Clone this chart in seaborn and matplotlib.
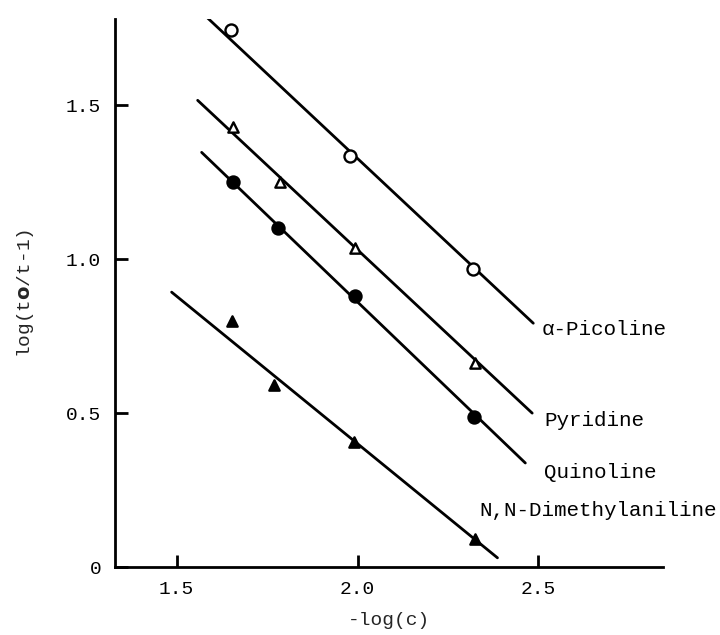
import matplotlib
matplotlib.use("Agg")
import matplotlib.pyplot as plt
import seaborn as sns
import pandas as pd

# ---- data ----
x_pic = [1.649, 1.98, 2.32]
y_pic = [1.743, 1.334, 0.967]
x_pyr = [1.657, 1.787, 1.994, 2.326]
y_pyr = [1.429, 1.25, 1.036, 0.662]
x_qui = [1.657, 1.779, 1.992, 2.323]
y_qui = [1.25, 1.10, 0.88, 0.487]
x_dma = [1.652, 1.768, 1.989, 2.326]
y_dma = [0.80, 0.59, 0.406, 0.09]

# fitted straight lines (end points)
fx_pic = [1.575, 2.486]; fy_pic = [1.795, 0.792]
fx_pyr = [1.558, 2.483]; fy_pyr = [1.516, 0.500]
fx_qui = [1.569, 2.464]; fy_qui = [1.347, 0.338]
fx_dma = [1.486, 2.387]; fy_dma = [0.893, 0.030]

names = ["\u03b1-Picoline", "Pyridine", "Quinoline", "N,N-Dimethylaniline"]
label_x = [2.51, 2.517, 2.517, 2.337]
label_y = [0.77, 0.477, 0.308, 0.185]

x_ticks = [1.5, 2.0, 2.5]
x_ticklabels = ["1.5", "2.0", "2.5"]
y_ticks = [0, 0.5, 1.0, 1.5]
y_ticklabels = ["0", "0.5", "1.0", "1.5"]

sns.set_style("ticks")
plt.rcParams['font.family'] = ['Liberation Mono', 'DejaVu Sans Mono']

fig = plt.figure(figsize=(7.2, 6.35), dpi=100)
ax = fig.add_axes([0.160, 0.107, 0.761, 0.863])

series = [
    (x_pic, y_pic, fx_pic, fy_pic, 'o', 'white'),
    (x_pyr, y_pyr, fx_pyr, fy_pyr, '^', 'white'),
    (x_qui, y_qui, fx_qui, fy_qui, 'o', 'black'),
    (x_dma, y_dma, fx_dma, fy_dma, '^', 'black'),
]
for xs, ys, fxs, fys, m, fc in series:
    sns.lineplot(x=fxs, y=fys, ax=ax, color='black', lw=2.0, sort=False,
                 estimator=None)
    sns.scatterplot(x=xs, y=ys, ax=ax, marker=m, s=75 if m == 'o' else 55,
                    facecolor=fc, edgecolor='black', linewidth=1.7, zorder=3)

for n, lx, ly in zip(names, label_x, label_y):
    ax.text(lx, ly, n, fontsize=15, ha='left', va='center', color='black')

ax.set_xlim(1.33, 2.845)
ax.set_ylim(0, 1.78)
ax.set_xticks(x_ticks)
ax.set_xticklabels(x_ticklabels)
ax.set_yticks(y_ticks)
ax.set_yticklabels(y_ticklabels)
ax.tick_params(axis='both', direction='in', length=9, width=2, labelsize=14,
               pad=10, color='black', labelcolor='black')
ax.set_xlabel("-log(c)", fontsize=14, labelpad=10)
ax.set_ylabel("log(t$\\mathbf{o}$/t-1)", fontsize=14, labelpad=22)
sns.despine(ax=ax)
for s in ['left', 'bottom']:
    ax.spines[s].set_linewidth(2)
    ax.spines[s].set_color('black')

fig.savefig("out.png", dpi=100, facecolor='white')
